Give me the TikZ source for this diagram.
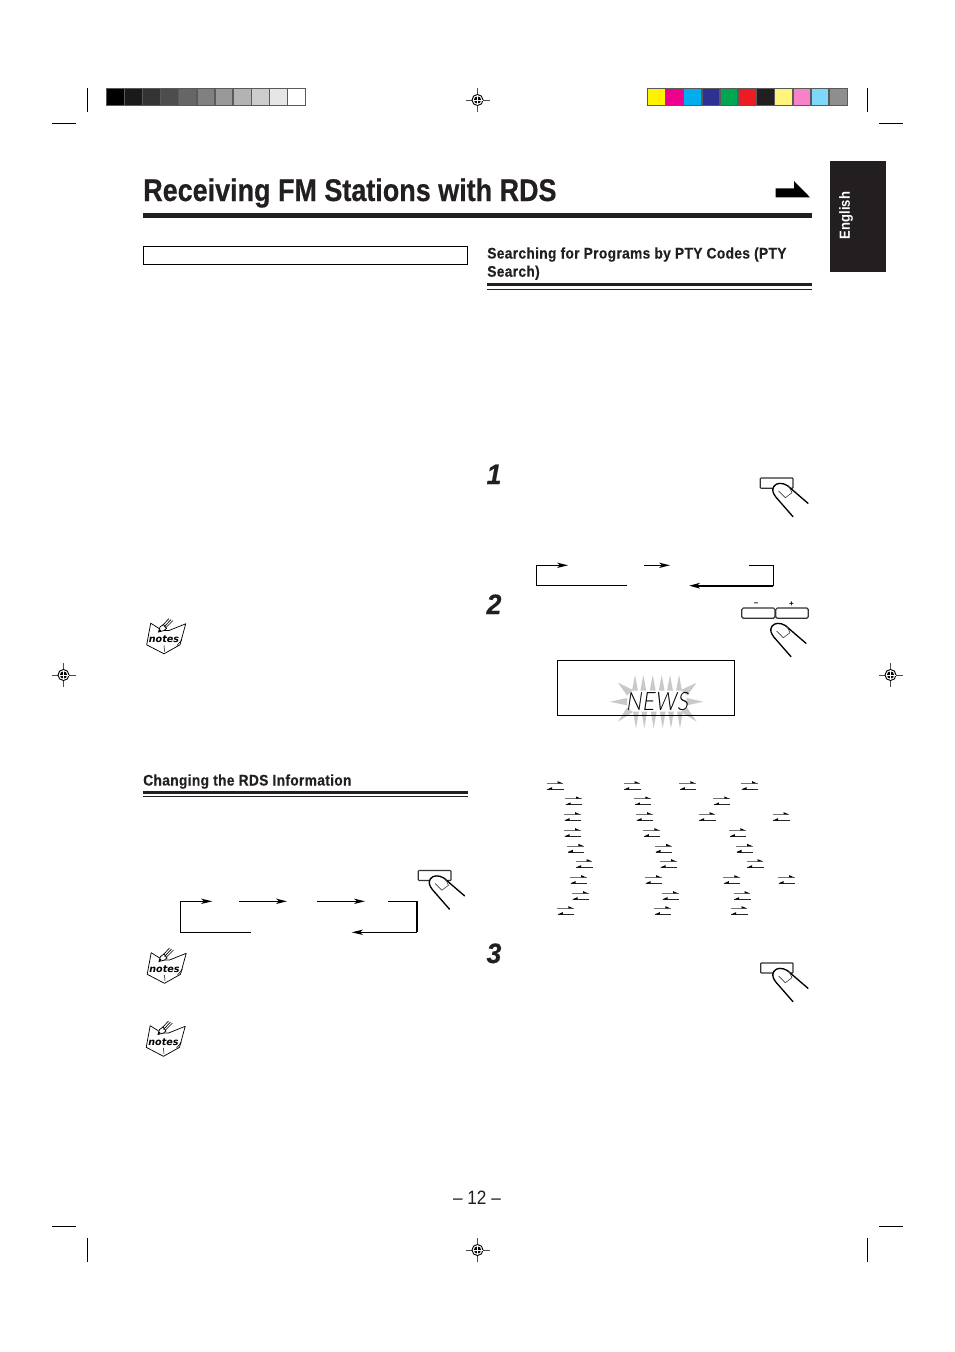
\documentclass[tikz,border=0pt]{standalone}
\usepackage{fontspec}
\setmainfont{Liberation Sans}
\newfontfamily\titlefont[FakeStretch=0.86,FakeBold=0.5]{Liberation Sans}
\newfontfamily\headfont[FakeStretch=0.9,LetterSpace=2,FakeBold=0.3]{Liberation Sans}
\newfontfamily\plainfont[FakeStretch=0.89]{Liberation Sans}
\newfontfamily\numfont[FakeStretch=0.95,FakeBold=0.5]{Liberation Sans}
\newfontfamily\lcdfont[FakeSlant=0.18]{Lato Light}
\newfontfamily\notefont{DejaVu Sans}
\definecolor{inkk}{HTML}{231F20}
\definecolor{framegray}{HTML}{5A5A5A}
\definecolor{burstgray}{HTML}{C9C9C9}
\tikzset{
  crop/.style={draw=black,line width=0.8pt},
  loopline/.style={draw=black,line width=0.85pt},
  looptip/.style={fill=black,draw=none},
  regline/.style={draw=black!70,line width=0.5pt},
  finger/.pic={
    \draw[line width=1pt,fill=white,line cap=round,line join=round]
      (47.7,25.3) -- (27,7.5) .. controls (22,4.5) and (16,4.5) .. (13.5,8.5)
      .. controls (11.5,12) and (12.5,15) .. (15.5,19) -- (32.7,38.7);
    \draw[line width=0.45pt,draw=black!75,line join=round]
      (28.5,8) -- (31.7,14.7) -- (25,19.7) -- (18.3,13);
  },
  notesicon/.pic={
    \draw[line width=0.55pt,fill=white,line join=round]
      (-13.3,-16.3) -- (-1.7,-9) -- (5,-9) -- (21.7,-15.7) -- (16,5.3)
      -- (0,14.3) -- (-17.3,5.3) -- cycle;
    \draw[line width=0.4pt] (0,6) -- (0.5,12);
    \draw[line width=0.4pt] (13,6) -- (18,0);
    \draw[line width=0.55pt,fill=white] (-5.5,-7.5) -- (-4,-12.5) -- (-0.5,-15) -- (2.5,-11) -- (0,-9) -- cycle;
    \draw[line width=0.5pt] (-1.5,-14) -- (5,-21) (0,-12.5) -- (7,-20) (1.5,-11.5) -- (9,-19);
    \fill (-5.5,-7.5) -- (-4.6,-10.5) -- (-2.8,-9) -- cycle;
    \node[font=\notefont\bfseries\itshape\fontsize{7.2pt}{9pt}\selectfont,inner sep=0pt] {notes};
  },
  regmark/.pic={
    \draw[regline] (-12,0) -- (12,0) (0,-12) -- (0,12);
    \draw[line width=0.7pt,fill=white] (0,0) circle (5.5);
    \fill (0,0) circle (3.6);
    \draw[white,line width=0.5pt] (-5,0) -- (5,0) (0,-5) -- (0,5);
  },
}
\newcommand{\swappair}[2]{%
  \draw[draw=black!55,line width=0.7pt] (#1,#2) -- ++(16.5,0);
  \fill (#1+11,#2-2.2) -- (#1+16,#2) -- (#1+11,#2) -- cycle;
  \draw[draw=black!85,line width=0.7pt] (#1+0.5,#2+6) -- ++(16.5,0);
  \fill (#1+5.5,#2+3.8) -- (#1+0.5,#2+6) -- (#1+5.5,#2+6) -- cycle;
}
\begin{document}
\begin{tikzpicture}[x=0.75pt,y=-0.75pt]
\useasboundingbox[fill=white] (0,0) rectangle (954,1352);

% crop marks
\draw[crop] (87.5,88) -- (87.5,112) (867.5,88) -- (867.5,112)
  (52,123.5) -- (76,123.5) (879,123.5) -- (903,123.5)
  (52,1226.5) -- (76,1226.5) (879,1226.5) -- (903,1226.5)
  (87.5,1238) -- (87.5,1262) (867.5,1238) -- (867.5,1262);
\pic at (477.5,100) {regmark};
\pic at (477.5,1250) {regmark};
\pic at (63.5,675) {regmark};
\pic at (890.5,675) {regmark};

% grey scale strip
\fill[framegray] (106,88) rectangle (306,106);
\foreach \i/\c in {0/000000,1/1A1A1A,2/333333,3/4D4D4D,4/666666,5/808080,6/999999,7/B3B3B3,8/CCCCCC,9/E6E6E6,10/FFFFFF}{
  \definecolor{cellc}{HTML}{\c}
  \fill[cellc] (107+\i*18.1,89) rectangle (107+\i*18.1+16.8,105);
}
% colour strip
\fill[framegray] (647,88) rectangle (848,106);
\foreach \i/\c in {0/FFF200,1/EC008C,2/00AEEF,3/2E3192,4/00A651,5/ED1C24,6/231F20,7/FFF57D,8/F782C8,9/7DD8FA,10/8E8E8E}{
  \definecolor{cellc}{HTML}{\c}
  \fill[cellc] (648+\i*18.2,89) rectangle (648+\i*18.2+16.6,105);
}

% title
\node[anchor=base west,inner sep=0pt,font=\titlefont\bfseries\fontsize{23.5pt}{26pt}\selectfont,text=inkk] (title) at (143,201) {Receiving FM Stations with RDS};
\fill[inkk] (143,213) rectangle (812,218);
\fill[black] (775.7,188.3) -- (794,188.3) -- (794,181) -- (810,197.3) -- (775.7,197.3) -- cycle;

% language tab
\fill[inkk] (830,161) rectangle (886,272);
\node[rotate=90,inner sep=0pt,text=white,font=\plainfont\bfseries\fontsize{11pt}{13pt}\selectfont] (lang) at (846,215.5) {English};

% left empty box
\draw[line width=0.75pt] (143.5,246.5) rectangle (467.5,264.5);

% subheads
\node[anchor=base west,inner sep=0pt,text=inkk,font=\headfont\bfseries\fontsize{11.5pt}{14pt}\selectfont] (h1a) at (487,258.5) {Searching for Programs by PTY Codes (PTY};
\node[anchor=base west,inner sep=0pt,text=inkk,font=\headfont\bfseries\fontsize{11.5pt}{14pt}\selectfont] (h1b) at (487,276.7) {Search)};
\fill[inkk] (487,283.3) rectangle (812,286);
\fill[inkk] (487,288.5) rectangle (812,289.5);
\node[anchor=base west,inner sep=0pt,text=inkk,font=\headfont\bfseries\fontsize{11.5pt}{14pt}\selectfont] (h2) at (143,785.5) {Changing the RDS Information};
\fill[inkk] (143,791) rectangle (468,793.7);
\fill[inkk] (143,796) rectangle (468,797);

% step numbers
\foreach \n/\yy in {1/484,2/614,3/963}{
  \node[anchor=base,inner sep=0pt,text=inkk,font=\numfont\bfseries\itshape\fontsize{21pt}{22pt}\selectfont] (step\n) at (494,\yy) {\n};
}

% buttons with fingers
\draw[line width=0.85pt,draw=black!80,rounded corners=0.6pt] (760.3,478) rectangle (793,488.3);
\pic at (760.3,478) {finger};
\draw[line width=0.85pt,draw=black!80,rounded corners=0.6pt] (760.7,963) rectangle (793,973);
\pic at (760.3,963) {finger};
\draw[line width=0.85pt,draw=black!80,rounded corners=0.6pt] (418.3,870.5) rectangle (451,880.5);
\pic at (416.8,870.5) {finger};
\draw[line width=0.85pt,draw=black!80,rounded corners=1.2pt] (741.7,608) rectangle (775,618.3);
\draw[line width=0.85pt,draw=black!80,rounded corners=1.2pt] (775.7,608) rectangle (808.3,618.3);
\node[inner sep=0pt,font=\bfseries\fontsize{6pt}{7pt}\selectfont] (minus) at (756,604) {–};
\node[inner sep=0pt,font=\bfseries\fontsize{6pt}{7pt}\selectfont] (plus) at (791.5,604) {+};
\pic at (758.3,618) {finger};

% loop arrows, upper
\draw[loopline] (627,585.7) -- (536.7,585.7) -- (536.7,565.3) -- (560,565.3);
\fill[looptip] (568,565.3) -- (557,562.6) -- (560,565.3) -- (557,568) -- cycle;
\draw[loopline,line width=1.2pt] (644,565.3) -- (662,565.3);
\fill[looptip] (670,565.3) -- (659,562.6) -- (662,565.3) -- (659,568) -- cycle;
\draw[loopline] (749,565.3) -- (773.3,565.3) -- (773.3,585.7);
\draw[loopline,line width=1.5pt] (773.3,585.7) -- (697,585.7);
\fill[looptip] (689.3,585.7) -- (700,582.8) -- (697,585.7) -- (700,588.6) -- cycle;

% loop arrows, lower
\draw[loopline] (251,932.3) -- (180.3,932.3) -- (180.3,901.3) -- (204,901.3);
\fill[looptip] (212.3,901.3) -- (201,898.6) -- (204,901.3) -- (201,904) -- cycle;
\draw[loopline] (239,901.3) -- (279,901.3);
\fill[looptip] (287,901.3) -- (276,898.6) -- (279,901.3) -- (276,904) -- cycle;
\draw[loopline] (317,901.3) -- (357,901.3);
\fill[looptip] (365,901.3) -- (354,898.6) -- (357,901.3) -- (354,904) -- cycle;
\draw[loopline] (388.3,901.3) -- (417.3,901.3);
\draw[loopline,line width=1.5pt] (417.3,901) -- (417.3,932.3);
\draw[loopline] (417.3,932.3) -- (360,932.3);
\fill[looptip] (351.7,932.3) -- (363,929.6) -- (360,932.3) -- (363,935) -- cycle;

% NEWS burst
\foreach \x in {635,643.3,652.7,661.7,670,679}{
  \fill[burstgray] (\x,675) -- (\x+2.9,690.5) -- (\x-2.9,690.5) -- cycle;
  \fill[burstgray] (\x+1,728.3) -- (\x+3.9,711.5) -- (\x-1.9,711.5) -- cycle;
}
\fill[burstgray] (610,701.7) -- (627,698) -- (627,705.4) -- cycle;
\fill[burstgray] (703.3,701.7) -- (686.5,698) -- (686.5,705.4) -- cycle;
\fill[burstgray] (618,682.7) -- (633,690) -- (627,695.5) -- cycle;
\fill[burstgray] (696.7,682.7) -- (681,690) -- (687,695.5) -- cycle;
\fill[burstgray] (618,721.7) -- (633,712) -- (627,707.5) -- cycle;
\fill[burstgray] (696.7,721.7) -- (681,712) -- (687,707.5) -- cycle;
\draw[line width=0.85pt] (557.5,660.7) rectangle (734.5,715.7);
\node[inner sep=0pt,font=\lcdfont\fontsize{19pt}{20pt}\selectfont,xscale=0.83] (news) at (657,702) {N\kern0.5pt E\kern0.5pt W\kern0.5pt S};

% swap arrow pairs
\foreach \zx/\zy in {
  50/40,281/40,448/40,633/40,
  105/86,313/86,550/86,
  102/133,318/133,506/133,728/133,
  102/181,340/181,598/181,
  112/228,375/228,618/228,
  137/274,390/274,650/274,
  120/322,345/322,580/322,744/322,
  126/370,396/370,611/370,
  82/415,373/415,602/415}{
  \swappair{530+\zx/3}{770+\zy/3}
}

% notes icons
\pic at (164,639.5) {notesicon};
\pic at (164.5,969) {notesicon};
\pic at (163.5,1042) {notesicon};

% page number
\node[inner sep=0pt,text=inkk,font=\plainfont\fontsize{14.5pt}{16pt}\selectfont] (page) at (477,1197.5) {– 12 –};
\end{tikzpicture}
\end{document}
